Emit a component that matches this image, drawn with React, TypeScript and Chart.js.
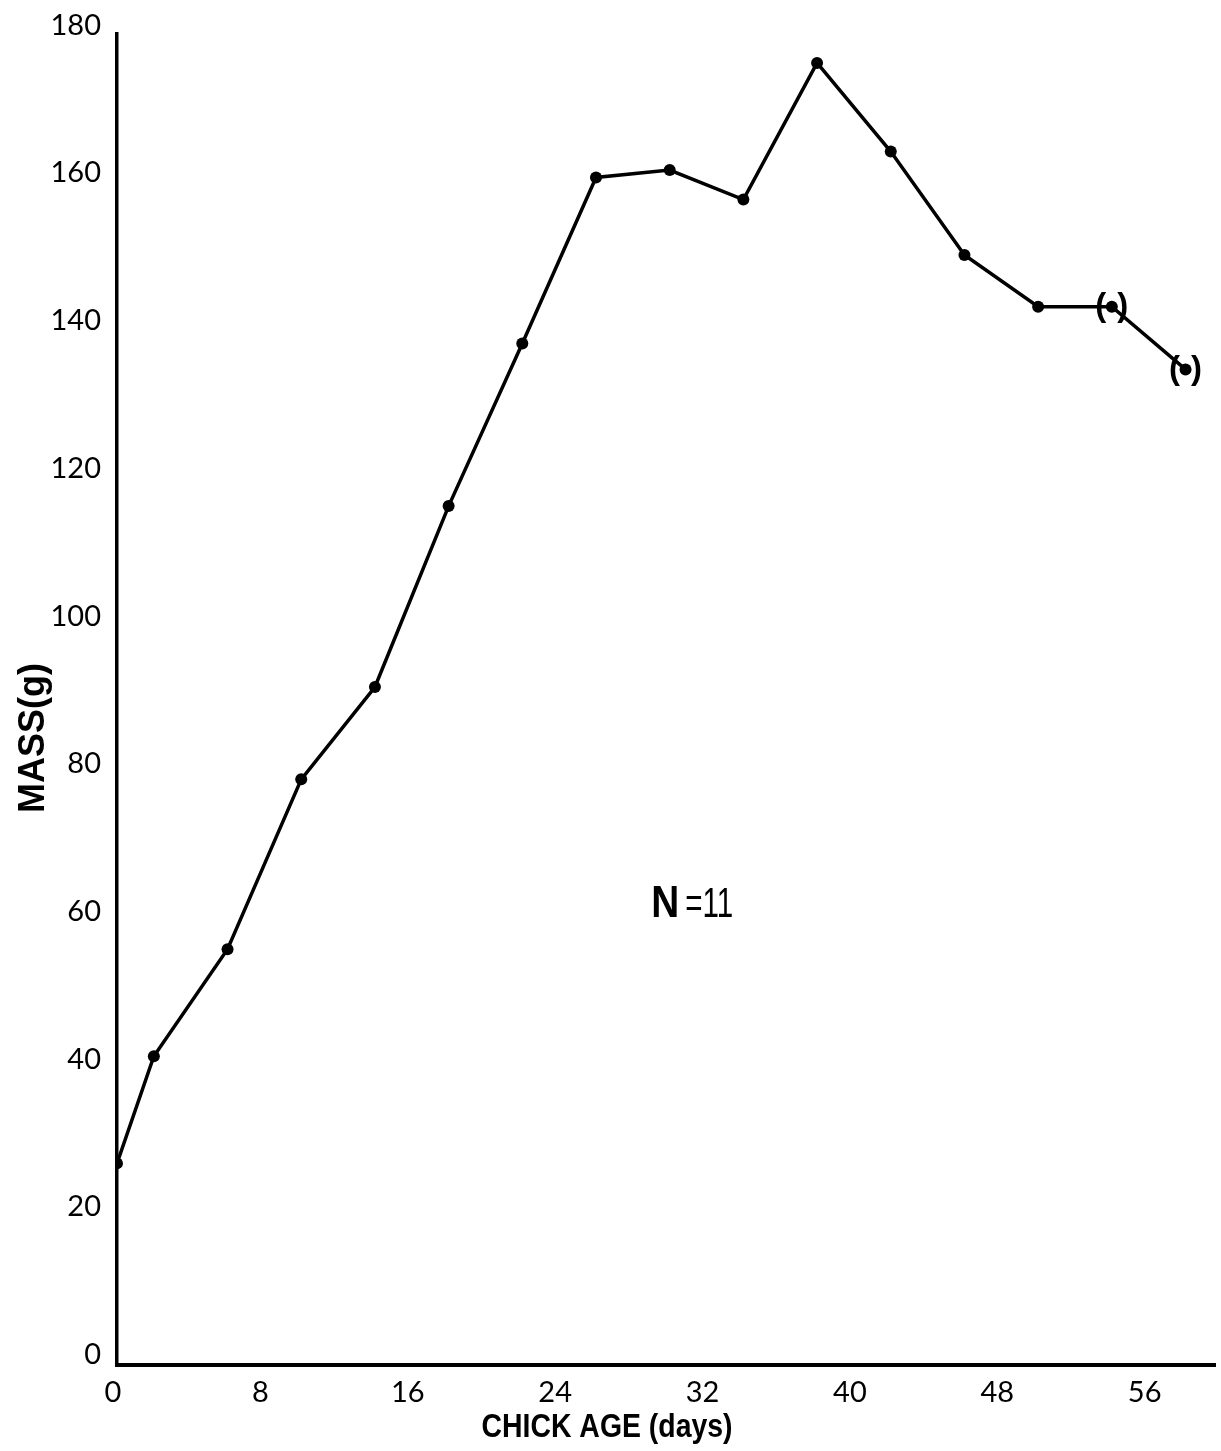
import React, { useEffect, useRef } from "react";
import { Chart, registerables } from "chart.js";

Chart.register(...registerables);

// ---- data ----
const chickAgeDays = [0, 2, 6, 10, 14, 18, 22, 26, 30, 34, 38, 42, 46, 50, 54, 58];
const meanMassG = [27, 41.5, 56, 79, 91.5, 116, 138, 160.5, 161.5, 157.5, 176, 164, 150, 143, 143, 134.5];
const bracketedPoint = [false, false, false, false, false, false, false, false, false, false, false, false, false, false, true, true];
const xTickValues = [0, 8, 16, 24, 32, 40, 48, 56];
const yTickValues = [0, 20, 40, 60, 80, 100, 120, 140, 160, 180];
const xAxisTitle = "CHICK AGE (days)";
const yAxisTitle = "MASS(g)";
const sampleSizeBold = "N";
const sampleSizeRest = "=11";

const W = 1221;
const H = 1451;

function drawCondensed(
  ctx: CanvasRenderingContext2D,
  text: string,
  x: number,
  y: number,
  targetWidth: number,
  font: string,
  rotation: number
) {
  ctx.save();
  ctx.translate(x, y);
  ctx.rotate(rotation);
  ctx.font = font;
  const w = ctx.measureText(text).width;
  ctx.scale(targetWidth / w, 1);
  ctx.textAlign = "center";
  ctx.textBaseline = "alphabetic";
  ctx.fillText(text, 0, 0);
  ctx.restore();
}

const annotationPlugin = {
  id: "figureAnnotations",
  afterDraw(chart: any) {
    const ctx: CanvasRenderingContext2D = chart.ctx;
    const xs = chart.scales.x;
    const ys = chart.scales.y;
    ctx.save();
    ctx.fillStyle = "#000";

    // parentheses around bracketed points
    const meta = chart.getDatasetMeta(0);
    ctx.font = 'bold 33px "Liberation Sans"';
    ctx.textAlign = "center";
    ctx.textBaseline = "middle";
    meta.data.forEach((pt: any, i: number) => {
      if (!bracketedPoint[i]) return;
      ctx.fillText("(", pt.x - 11, pt.y);
      ctx.fillText(")", pt.x + 11, pt.y);
    });

    // N=11 annotation
    const nx = xs.getPixelForValue(29.0);
    const ny = ys.getPixelForValue(60.4);
    ctx.textAlign = "left";
    ctx.textBaseline = "alphabetic";
    ctx.save();
    ctx.translate(nx, ny);
    ctx.font = 'bold 44px "Liberation Sans"';
    const nw = ctx.measureText(sampleSizeBold).width;
    ctx.scale(28 / nw, 1);
    ctx.fillText(sampleSizeBold, 0, 0);
    ctx.restore();
    ctx.save();
    ctx.translate(nx + 34, ny);
    ctx.font = '42px "Liberation Sans"';
    const rw = ctx.measureText(sampleSizeRest).width;
    ctx.scale(48 / rw, 1);
    ctx.fillText(sampleSizeRest, 0, 0);
    ctx.restore();

    // axis titles
    drawCondensed(ctx, xAxisTitle, 607, 1437, 251, 'bold 34px "Liberation Sans"', 0);
    drawCondensed(ctx, yAxisTitle, 44, 738, 150, 'bold 36px "Liberation Sans"', -Math.PI / 2);

    ctx.restore();
  },
};

export default function App() {
  const canvasRef = useRef<HTMLCanvasElement | null>(null);

  useEffect(() => {
    const canvas = canvasRef.current;
    if (!canvas) return;
    const chart = new Chart(canvas, {
      type: "line",
      data: {
        datasets: [
          {
            data: chickAgeDays.map((d, i) => ({ x: d, y: meanMassG[i] })),
            borderColor: "#000",
            borderWidth: 3.5,
            backgroundColor: "#000",
            pointRadius: 6,
            pointBackgroundColor: "#000",
            pointBorderWidth: 0,
            tension: 0,
            fill: false,
          },
        ],
      },
      options: {
        responsive: false,
        animation: false,
        devicePixelRatio: 1,
        layout: { padding: { top: 31, right: 0, left: 0, bottom: 0 } },
        plugins: {
          legend: { display: false },
          tooltip: { enabled: false },
          title: { display: false },
        },
        scales: {
          x: {
            type: "linear",
            min: 0,
            max: 59.6,
            afterBuildTicks: (scale: any) => {
              scale.ticks = xTickValues.map((v) => ({ value: v }));
            },
            afterFit: (scale: any) => {
              scale.height = 86;
            },
            grid: { display: false, drawTicks: false },
            border: { display: true, color: "#000", width: 4 },
            ticks: {
              color: "#000",
              font: { family: "Lato", size: 29 },
              padding: 10,
              labelOffset: -4,
              maxRotation: 0,
              autoSkip: false,
            },
          },
          y: {
            type: "linear",
            min: -0.3,
            max: 180,
            afterBuildTicks: (scale: any) => {
              scale.ticks = yTickValues.map((v) => ({ value: v }));
            },
            afterFit: (scale: any) => {
              scale.width = 117;
            },
            grid: { display: false, drawTicks: false },
            border: { display: true, color: "#000", width: 3.5 },
            ticks: {
              color: "#000",
              font: { family: "Lato", size: 29 },
              padding: 16,
              labelOffset: -8,
              autoSkip: false,
            },
          },
        },
      },
      plugins: [annotationPlugin],
    } as any);
    return () => chart.destroy();
  }, []);

  return (
    <div style={{ position: "absolute", left: 0, top: 0, width: W, height: H, background: "#fff" }}>
      <canvas ref={canvasRef} width={W} height={H} style={{ display: "block" }} />
    </div>
  );
}
